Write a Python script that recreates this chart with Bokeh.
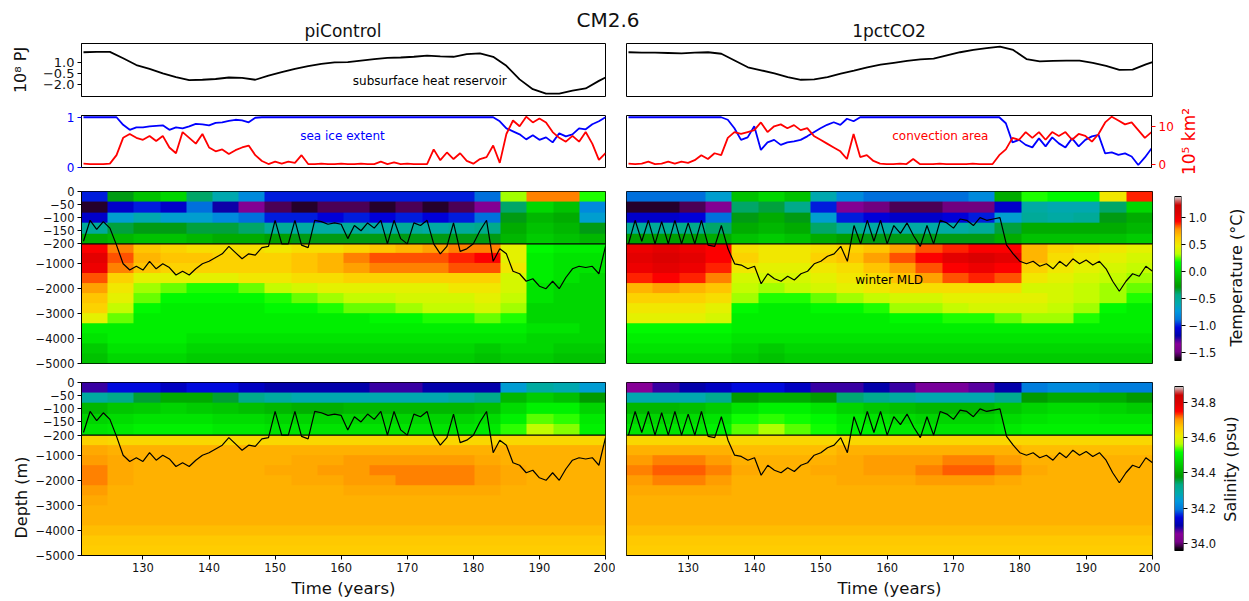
import numpy as np
from bokeh.plotting import figure
from bokeh.models import (Range1d, LinearAxis, FixedTicker, Span, Label, Div, Title,
                          LinearColorMapper, CustomJSTickFormatter)
from bokeh.layouts import row, column
from bokeh.embed import file_html
from bokeh.resources import INLINE

FONT = "DejaVu Sans"

# ------------------------------------------------------------------ data
years = list(range(121, 201))
heat_years = [121, 123, 125, 127, 129, 131, 133, 135, 137, 139, 141, 143, 145, 147, 149,
              151, 153, 155, 157, 159, 161, 163, 165, 167, 169, 171, 173, 175, 177, 179,
              181, 183, 185, 187, 189, 191, 193, 195, 197, 199, 200]

heat_pi = [2.3, 2.35, 2.35, 1.5, 0.6, 0.1, -0.5, -1.0, -1.4, -1.35, -1.25, -1.05, -1.1, -1.35,
           -0.8, -0.35, 0.1, 0.45, 0.75, 0.95, 1.0, 1.2, 1.4, 1.55, 1.6, 1.7, 1.85, 1.75, 1.7,
           2.05, 2.15, 1.7, 0.5, -1.3, -2.6, -3.2, -3.2, -2.8, -2.5, -1.5, -1.05]
heat_1pct = [2.3, 2.25, 2.25, 2.2, 2.15, 2.25, 2.3, 2.1, 1.2, 0.3, -0.1, -0.5, -1.0, -1.35,
             -1.3, -1.0, -0.55, -0.15, 0.3, 0.65, 0.9, 1.15, 1.35, 1.45, 1.9, 2.3, 2.6, 2.85,
             3.05, 2.6, 1.4, 1.1, 1.15, 1.2, 1.2, 0.9, 0.5, -0.05, 0.0, 0.7, 1.0]

ice_pi = [1.0, 1.0, 1.0, 1.0, 1.0, 1.0, 0.85, 0.75, 0.8, 0.8, 0.82, 0.83, 0.84, 0.75, 0.8, 0.78,
          0.82, 0.87, 0.86, 0.84, 0.89, 0.9, 0.93, 0.95, 0.94, 0.9, 0.99,
          1.0, 1.0, 1.0, 1.0, 1.0, 1.0, 1.0, 1.0, 1.0, 1.0, 1.0, 1.0, 1.0, 1.0, 1.0, 1.0, 1.0, 1.0,
          1.0, 1.0, 1.0, 1.0, 1.0, 1.0, 1.0, 1.0, 1.0, 1.0, 1.0, 1.0, 1.0, 1.0, 1.0, 1.0, 1.0, 1.0,
          0.92, 0.78, 0.72, 0.66, 0.56, 0.64, 0.55, 0.6, 0.5, 0.68, 0.62, 0.66, 0.78, 0.76, 0.86,
          0.92, 1.0]
conv_pi = [0.3, 0.2, 0.2, 0.2, 0.3, 2.5, 7.0, 8.0, 7.0, 6.5, 7.5, 6.2, 7.5, 4.5, 3.0, 8.5, 7.0,
           5.5, 8.0, 4.5, 3.5, 4.0, 2.8, 3.8, 4.5, 5.0, 2.5, 1.0, 0.2, 0.8, 0.3, 0.8, 0.5, 2.5,
           0.2, 0.2, 0.3, 0.2, 0.2, 0.3, 0.2, 0.2, 0.3, 0.2, 0.2, 0.8, 0.2, 0.6, 0.2, 0.3, 0.2,
           0.2, 0.2, 4.0, 1.2, 3.2, 1.5, 3.0, 1.0, 0.3, 1.5, 2.0, 5.0, 0.5, 8.0, 11.5, 10.0, 12.5,
           11.0, 12.0, 11.0, 8.5, 7.0, 6.0, 7.5, 6.0, 8.5, 5.5, 1.3, 3.0]
ice_1pct = [1.0, 1.0, 1.0, 1.0, 1.0, 1.0, 1.0, 1.0, 1.0, 1.0, 1.0, 1.0, 1.0, 1.0, 1.0,
            0.95, 0.78, 0.55, 0.6, 0.82, 0.35, 0.5, 0.55, 0.45, 0.5, 0.52, 0.55, 0.62, 0.7, 0.78,
            0.85, 0.9, 0.85, 0.97, 0.92,
            1.0, 1.0, 1.0, 1.0, 1.0, 1.0, 1.0, 1.0, 1.0, 1.0, 1.0, 1.0, 1.0, 1.0, 1.0, 1.0, 1.0,
            1.0, 1.0, 1.0, 1.0, 1.0,
            0.88, 0.5, 0.55, 0.45, 0.4, 0.58, 0.42, 0.6, 0.48, 0.4, 0.58, 0.42, 0.55, 0.62, 0.65,
            0.28, 0.3, 0.25, 0.28, 0.22, 0.05, 0.2, 0.38]
conv_1pct = [0.3, 0.2, 0.3, 0.8, 0.2, 0.3, 0.8, 0.3, 0.8, 0.5, 1.2, 2.5, 1.5, 3.0, 2.5, 7.0, 8.5,
             8.0, 8.5, 9.0, 11.0, 8.5, 10.0, 10.5, 9.5, 10.3, 9.0, 9.5, 7.5, 6.5, 5.5, 4.5, 3.5,
             1.5, 8.0, 2.0, 2.5, 1.0, 0.3, 0.2, 0.2, 0.3, 0.2, 1.5, 0.2, 0.2, 0.2, 0.3, 0.2, 0.2,
             0.2, 0.2, 0.3, 0.2, 0.2, 0.2, 2.5, 4.0, 7.0, 6.5, 8.5, 7.0, 8.5, 6.5, 8.5, 7.5, 8.5,
             6.5, 8.0, 7.5, 6.0, 8.0, 11.0, 12.5, 11.5, 10.5, 11.0, 9.0, 7.0, 8.5]

# winter mixed layer depth (m)
mld_pi = [-190, -110, -145, -115, -140, -250, -1000, -1250, -1100, -1250, -900, -1200, -1000,
          -1150, -1450, -1300, -1450, -1200, -1000, -900, -750, -600, -300, -550, -800, -600,
          -650, -350, -300, -110, -200, -200, -110, -250, -350, -110, -115, -125, -120, -125,
          -180, -130, -150, -120, -140, -110, -200, -110, -180, -200, -120, -130, -110, -200,
          -600, -300, -120, -500, -400, -200, -150, -110, -900, -400, -600, -1300, -1400, -1700,
          -1600, -1900, -2000, -1700, -2000, -1550, -1200, -1100, -1150, -1100, -1400, -300]
mld_1pct = [-200, -110, -190, -110, -200, -115, -200, -110, -200, -120, -200, -110, -250, -300,
            -130, -400, -1000, -1050, -1200, -1100, -1800, -1400, -1600, -1700, -1500, -1650,
            -1400, -1300, -1000, -900, -700, -600, -300, -900, -130, -200, -110, -190, -110, -200,
            -130, -160, -120, -170, -300, -130, -200, -110, -120, -140, -105, -110, -130, -100,
            -110, -105, -100, -250, -600, -900, -1000, -900, -1100, -1000, -1200, -900, -1100,
            -800, -1000, -850, -1050, -900, -1200, -1700, -2100, -1700, -1400, -1500, -1100, -1300]

# potential temperature (deg C); upper 200 m (rows 0-40,...,160-200 m), 20 time bins 121-200
temp_pi_upper = [
    [-1.0, -0.3, -0.1, 0.0, -0.4, -0.6, -0.8, -1.0, -1.0, -1.0, -1.0, -1.0, -1.0, -1.0, -1.0, -0.9, 0.3, 0.8, 0.8, 0.2],
    [-1.6, -1.1, -1.0, -1.1, -0.9, -1.2, -1.4, -1.55, -1.6, -1.55, -1.55, -1.6, -1.55, -1.6, -1.55, -1.4, -0.4, 0.0, -0.1, -0.8],
    [-1.1, -0.7, -0.6, -0.7, -0.7, -0.8, -0.9, -1.0, -1.0, -1.05, -1.0, -1.05, -1.0, -1.05, -1.0, -0.9, -0.3, -0.15, -0.2, -0.7],
    [-0.5, -0.35, -0.3, -0.3, -0.35, -0.35, -0.4, -0.5, -0.55, -0.55, -0.5, -0.55, -0.5, -0.55, -0.5, -0.45, -0.2, -0.1, -0.15, -0.3],
    [-0.2, -0.15, -0.1, -0.1, -0.15, -0.2, -0.2, -0.25, -0.3, -0.3, -0.3, -0.3, -0.3, -0.3, -0.3, -0.3, -0.15, -0.05, -0.1, -0.15],
]
# 200-5000 m (rows of 400 m)
temp_pi_lower = [
    [0.95, 0.8, 0.65, 0.6, 0.55, 0.55, 0.55, 0.5, 0.55, 0.55, 0.6, 0.65, 0.7, 0.75, 0.8, 0.8, 0.45, 0.15, 0.1, 0.1],
    [1.05, 0.85, 0.7, 0.65, 0.65, 0.6, 0.6, 0.6, 0.65, 0.7, 0.8, 0.85, 0.85, 0.85, 0.9, 0.95, 0.45, 0.1, 0.05, 0.05],
    [1.0, 0.8, 0.65, 0.6, 0.6, 0.6, 0.6, 0.6, 0.65, 0.7, 0.75, 0.8, 0.8, 0.8, 0.85, 0.85, 0.5, 0.1, 0.05, 0.05],
    [0.85, 0.6, 0.45, 0.45, 0.45, 0.45, 0.5, 0.5, 0.55, 0.55, 0.6, 0.6, 0.6, 0.6, 0.6, 0.6, 0.4, 0.1, 0.05, 0.0],
    [0.75, 0.5, 0.3, 0.25, 0.2, 0.2, 0.25, 0.35, 0.4, 0.45, 0.45, 0.45, 0.45, 0.45, 0.5, 0.5, 0.4, 0.05, 0.0, 0.0],
    [0.65, 0.45, 0.25, 0.15, 0.15, 0.15, 0.15, 0.2, 0.25, 0.3, 0.35, 0.35, 0.4, 0.4, 0.4, 0.45, 0.35, 0.05, 0.0, 0.0],
    [0.6, 0.35, 0.15, 0.1, 0.1, 0.1, 0.1, 0.15, 0.15, 0.2, 0.25, 0.25, 0.3, 0.35, 0.35, 0.4, 0.3, 0.0, 0.0, 0.0],
    [0.45, 0.25, 0.1, 0.1, 0.1, 0.1, 0.1, 0.1, 0.1, 0.1, 0.1, 0.15, 0.15, 0.2, 0.2, 0.25, 0.2, 0.0, 0.0, 0.0],
    [0.1, 0.1, 0.1, 0.1, 0.1, 0.1, 0.1, 0.1, 0.1, 0.1, 0.1, 0.1, 0.1, 0.1, 0.1, 0.1, 0.1, 0.05, 0.05, 0.0],
    [0.05, 0.1, 0.1, 0.1, 0.05, 0.05, 0.05, 0.05, 0.05, 0.05, 0.05, 0.05, 0.05, 0.05, 0.05, 0.05, 0.05, 0.0, 0.0, 0.0],
    [-0.05, 0.05, 0.05, 0.05, 0.0, 0.0, 0.0, 0.0, 0.0, 0.0, 0.0, 0.0, 0.0, 0.0, 0.0, -0.05, 0.0, 0.0, -0.05, -0.05],
    [-0.1, 0.0, 0.0, 0.0, -0.05, -0.05, -0.05, -0.05, -0.05, -0.05, -0.05, -0.05, -0.05, -0.05, -0.05, -0.1, -0.05, -0.05, -0.1, -0.1],
]
temp_1pct_upper = [
    [-0.9, -0.9, -0.9, -0.7, -0.1, 0.0, -0.1, -0.6, -0.8, -0.9, -0.9, -0.9, -0.9, -0.8, -0.2, 0.2, 0.15, 0.15, 0.5, 0.9],
    [-1.6, -1.6, -1.55, -1.4, -0.4, -0.35, -0.45, -1.0, -1.4, -1.5, -1.55, -1.55, -1.5, -1.5, -1.1, -0.55, -0.6, -0.6, -0.4, 0.0],
    [-1.1, -1.1, -1.05, -0.9, -0.3, -0.2, -0.3, -0.7, -1.0, -1.05, -1.1, -1.1, -1.05, -1.0, -0.7, -0.5, -0.55, -0.5, -0.3, -0.2],
    [-0.5, -0.5, -0.45, -0.4, -0.2, -0.15, -0.2, -0.4, -0.5, -0.55, -0.55, -0.55, -0.55, -0.5, -0.35, -0.2, -0.2, -0.2, -0.2, -0.15],
    [-0.25, -0.25, -0.25, -0.2, -0.1, -0.05, -0.1, -0.2, -0.25, -0.3, -0.3, -0.3, -0.3, -0.3, -0.2, -0.1, -0.1, -0.1, -0.1, -0.05],
]
temp_1pct_lower = [
    [1.0, 1.05, 1.0, 0.95, 0.55, 0.5, 0.5, 0.55, 0.6, 0.65, 0.75, 0.85, 0.9, 0.95, 0.95, 0.7, 0.6, 0.55, 0.5, 0.45],
    [1.05, 1.1, 1.05, 0.95, 0.6, 0.5, 0.5, 0.6, 0.65, 0.75, 0.85, 0.95, 1.05, 1.1, 1.05, 0.7, 0.55, 0.5, 0.45, 0.4],
    [1.0, 1.05, 1.0, 0.9, 0.5, 0.45, 0.45, 0.5, 0.55, 0.65, 0.75, 0.85, 0.95, 1.0, 0.95, 0.6, 0.5, 0.45, 0.4, 0.35],
    [0.9, 0.95, 0.9, 0.8, 0.4, 0.4, 0.4, 0.45, 0.5, 0.55, 0.65, 0.75, 0.85, 0.9, 0.85, 0.5, 0.45, 0.4, 0.35, 0.3],
    [0.7, 0.75, 0.7, 0.65, 0.35, 0.3, 0.35, 0.4, 0.45, 0.5, 0.55, 0.55, 0.55, 0.55, 0.55, 0.4, 0.4, 0.35, 0.3, 0.25],
    [0.6, 0.6, 0.6, 0.55, 0.3, 0.2, 0.2, 0.25, 0.3, 0.35, 0.4, 0.4, 0.45, 0.45, 0.45, 0.45, 0.4, 0.35, 0.3, 0.2],
    [0.5, 0.5, 0.5, 0.45, 0.15, 0.1, 0.1, 0.15, 0.15, 0.2, 0.3, 0.3, 0.35, 0.4, 0.4, 0.4, 0.35, 0.3, 0.15, 0.1],
    [0.45, 0.45, 0.45, 0.4, 0.1, 0.1, 0.1, 0.1, 0.1, 0.1, 0.15, 0.15, 0.2, 0.2, 0.25, 0.3, 0.3, 0.2, 0.1, 0.1],
    [0.15, 0.15, 0.15, 0.15, 0.1, 0.1, 0.1, 0.1, 0.1, 0.1, 0.1, 0.1, 0.1, 0.1, 0.1, 0.1, 0.1, 0.1, 0.1, 0.1],
    [0.1, 0.1, 0.1, 0.1, 0.05, 0.05, 0.05, 0.05, 0.05, 0.05, 0.05, 0.05, 0.05, 0.05, 0.05, 0.05, 0.05, 0.05, 0.05, 0.05],
    [0.05, 0.05, 0.05, 0.05, 0.0, -0.05, 0.0, 0.0, 0.0, 0.0, 0.0, 0.0, 0.0, 0.0, 0.0, 0.0, 0.0, 0.0, 0.0, 0.0],
    [0.0, 0.0, 0.0, 0.0, -0.05, -0.1, -0.05, -0.05, -0.05, -0.05, -0.05, -0.05, -0.05, -0.05, -0.05, -0.05, -0.05, -0.05, -0.05, -0.05],
]
# salinity (psu)
salt_pi_upper = [
    [34.08, 34.15, 34.15, 34.12, 34.15, 34.15, 34.12, 34.1, 34.1, 34.1, 34.1, 34.08, 34.08, 34.1, 34.1, 34.1, 34.25, 34.3, 34.28, 34.25],
    [34.3, 34.33, 34.36, 34.4, 34.4, 34.36, 34.33, 34.3, 34.28, 34.28, 34.28, 34.28, 34.28, 34.28, 34.3, 34.33, 34.42, 34.45, 34.43, 34.38],
    [34.42, 34.44, 34.45, 34.46, 34.45, 34.44, 34.43, 34.42, 34.41, 34.41, 34.42, 34.42, 34.42, 34.42, 34.42, 34.43, 34.47, 34.5, 34.5, 34.46],
    [34.46, 34.47, 34.48, 34.48, 34.48, 34.47, 34.47, 34.46, 34.46, 34.46, 34.46, 34.46, 34.46, 34.46, 34.46, 34.47, 34.5, 34.54, 34.53, 34.49],
    [34.48, 34.49, 34.5, 34.5, 34.5, 34.49, 34.49, 34.48, 34.48, 34.48, 34.48, 34.48, 34.48, 34.48, 34.48, 34.49, 34.53, 34.57, 34.55, 34.5],
]
salt_pi_lower = [
    [34.65, 34.64, 34.64, 34.64, 34.64, 34.64, 34.64, 34.64, 34.64, 34.64, 34.64, 34.64, 34.64, 34.64, 34.64, 34.64, 34.64, 34.64, 34.64, 34.64],
    [34.69, 34.68, 34.68, 34.68, 34.68, 34.68, 34.68, 34.68, 34.68, 34.68, 34.68, 34.68, 34.68, 34.68, 34.68, 34.68, 34.68, 34.68, 34.68, 34.68],
    [34.7, 34.69, 34.68, 34.68, 34.68, 34.68, 34.68, 34.68, 34.69, 34.69, 34.7, 34.7, 34.7, 34.7, 34.7, 34.69, 34.68, 34.68, 34.68, 34.68],
    [34.71, 34.69, 34.68, 34.68, 34.68, 34.68, 34.68, 34.69, 34.69, 34.7, 34.7, 34.71, 34.71, 34.71, 34.71, 34.7, 34.69, 34.68, 34.68, 34.68],
    [34.71, 34.69, 34.68, 34.68, 34.68, 34.68, 34.68, 34.68, 34.69, 34.69, 34.7, 34.7, 34.71, 34.71, 34.71, 34.7, 34.69, 34.68, 34.68, 34.68],
    [34.7, 34.68, 34.68, 34.68, 34.68, 34.68, 34.68, 34.68, 34.68, 34.68, 34.69, 34.69, 34.69, 34.69, 34.69, 34.69, 34.68, 34.68, 34.68, 34.68],
    [34.69, 34.68, 34.68, 34.68, 34.68, 34.68, 34.68, 34.68, 34.68, 34.68, 34.68, 34.68, 34.68, 34.68, 34.68, 34.68, 34.68, 34.68, 34.68, 34.68],
    [34.68, 34.68, 34.68, 34.68, 34.68, 34.68, 34.68, 34.68, 34.68, 34.68, 34.68, 34.68, 34.68, 34.68, 34.68, 34.68, 34.68, 34.68, 34.68, 34.68],
    [34.68, 34.68, 34.68, 34.68, 34.68, 34.68, 34.68, 34.68, 34.68, 34.68, 34.68, 34.68, 34.68, 34.68, 34.68, 34.68, 34.68, 34.68, 34.68, 34.68],
    [34.67, 34.67, 34.67, 34.67, 34.67, 34.67, 34.67, 34.67, 34.67, 34.67, 34.67, 34.67, 34.67, 34.67, 34.67, 34.67, 34.67, 34.67, 34.67, 34.67],
    [34.66, 34.66, 34.66, 34.66, 34.66, 34.66, 34.66, 34.66, 34.66, 34.66, 34.66, 34.66, 34.66, 34.66, 34.66, 34.66, 34.66, 34.66, 34.66, 34.66],
    [34.655, 34.655, 34.655, 34.655, 34.655, 34.655, 34.655, 34.655, 34.655, 34.655, 34.655, 34.655, 34.655, 34.655, 34.655, 34.655, 34.655, 34.655, 34.655, 34.655],
]
salt_1pct_upper = [
    [34.05, 34.08, 34.1, 34.12, 34.15, 34.15, 34.12, 34.08, 34.08, 34.1, 34.08, 34.06, 34.06, 34.07, 34.1, 34.2, 34.22, 34.22, 34.2, 34.2],
    [34.28, 34.28, 34.28, 34.32, 34.38, 34.4, 34.4, 34.38, 34.34, 34.32, 34.3, 34.28, 34.28, 34.28, 34.32, 34.38, 34.4, 34.4, 34.4, 34.38],
    [34.42, 34.42, 34.43, 34.45, 34.48, 34.5, 34.5, 34.48, 34.46, 34.44, 34.43, 34.42, 34.42, 34.42, 34.44, 34.46, 34.47, 34.47, 34.46, 34.45],
    [34.46, 34.46, 34.47, 34.48, 34.52, 34.53, 34.52, 34.51, 34.49, 34.48, 34.47, 34.46, 34.46, 34.46, 34.47, 34.48, 34.49, 34.49, 34.48, 34.48],
    [34.48, 34.48, 34.49, 34.5, 34.54, 34.56, 34.54, 34.52, 34.5, 34.5, 34.49, 34.48, 34.48, 34.48, 34.49, 34.5, 34.5, 34.5, 34.5, 34.5],
]
salt_1pct_lower = [
    [34.64, 34.64, 34.64, 34.64, 34.64, 34.64, 34.64, 34.64, 34.64, 34.64, 34.64, 34.64, 34.64, 34.64, 34.64, 34.64, 34.64, 34.64, 34.64, 34.64],
    [34.68, 34.68, 34.68, 34.68, 34.67, 34.67, 34.67, 34.67, 34.68, 34.68, 34.68, 34.68, 34.68, 34.68, 34.68, 34.67, 34.67, 34.67, 34.67, 34.67],
    [34.7, 34.71, 34.71, 34.7, 34.68, 34.68, 34.68, 34.68, 34.69, 34.7, 34.7, 34.7, 34.71, 34.71, 34.7, 34.68, 34.68, 34.68, 34.68, 34.68],
    [34.71, 34.72, 34.72, 34.71, 34.69, 34.68, 34.68, 34.69, 34.69, 34.7, 34.7, 34.71, 34.72, 34.72, 34.71, 34.69, 34.68, 34.68, 34.68, 34.68],
    [34.7, 34.71, 34.71, 34.7, 34.68, 34.68, 34.68, 34.68, 34.69, 34.69, 34.69, 34.7, 34.7, 34.7, 34.69, 34.68, 34.68, 34.68, 34.68, 34.68],
    [34.69, 34.69, 34.69, 34.69, 34.68, 34.68, 34.68, 34.68, 34.68, 34.68, 34.68, 34.68, 34.68, 34.68, 34.68, 34.68, 34.68, 34.68, 34.68, 34.68],
    [34.68, 34.68, 34.68, 34.68, 34.68, 34.68, 34.68, 34.68, 34.68, 34.68, 34.68, 34.68, 34.68, 34.68, 34.68, 34.68, 34.68, 34.68, 34.68, 34.68],
    [34.68, 34.68, 34.68, 34.68, 34.68, 34.68, 34.68, 34.68, 34.68, 34.68, 34.68, 34.68, 34.68, 34.68, 34.68, 34.68, 34.68, 34.68, 34.68, 34.68],
    [34.68, 34.68, 34.68, 34.68, 34.68, 34.68, 34.68, 34.68, 34.68, 34.68, 34.68, 34.68, 34.68, 34.68, 34.68, 34.68, 34.68, 34.68, 34.68, 34.68],
    [34.67, 34.67, 34.67, 34.67, 34.67, 34.67, 34.67, 34.67, 34.67, 34.67, 34.67, 34.67, 34.67, 34.67, 34.67, 34.67, 34.67, 34.67, 34.67, 34.67],
    [34.66, 34.66, 34.66, 34.66, 34.66, 34.66, 34.66, 34.66, 34.66, 34.66, 34.66, 34.66, 34.66, 34.66, 34.66, 34.66, 34.66, 34.66, 34.66, 34.66],
    [34.655, 34.655, 34.655, 34.655, 34.655, 34.655, 34.655, 34.655, 34.655, 34.655, 34.655, 34.655, 34.655, 34.655, 34.655, 34.655, 34.655, 34.655, 34.655, 34.655],
]

depth_ticks_m = [0, -50, -100, -150, -200, -1000, -2000, -3000, -4000, -5000]
x_ticks = [130, 140, 150, 160, 170, 180, 190, 200]
T_LOW, T_HIGH = -1.65, 1.39
S_LOW, S_HIGH = 33.96, 34.89

# ------------------------------------------------------------------ helpers
X0, X1 = 120.7, 200.0


def depth_axis(d):
    """split depth axis: upper 200 m stretched, 200-5000 m compressed."""
    d = np.asarray(d, dtype=float)
    return np.where(d >= -200, d * 1.05, -210.0 + (d + 200.0) / 10.0)


def nipy_spectral(n=256):
    pos = [0.0, 0.05, 0.10, 0.15, 0.20, 0.25, 0.30, 0.35, 0.40, 0.45, 0.50,
           0.55, 0.60, 0.65, 0.70, 0.75, 0.80, 0.85, 0.90, 0.95, 1.0]
    R = [0, 0.4667, 0.5333, 0, 0, 0, 0, 0, 0, 0, 0, 0, 0, 0.7333, 0.9333, 1, 1, 1, 0.8667, 0.8, 0.8]
    G = [0, 0, 0, 0, 0, 0.4667, 0.6, 0.6667, 0.6667, 0.6, 0.7333, 0.8667, 1, 1, 0.9333, 0.8, 0.6, 0, 0, 0, 0.8]
    B = [0, 0.5333, 0.6, 0.6667, 0.8667, 0.8667, 0.8667, 0.6667, 0.5333, 0, 0, 0, 0, 0, 0, 0, 0, 0, 0, 0, 0.8]
    t = np.linspace(0, 1, n)
    r, g, b = (np.interp(t, pos, c) for c in (R, G, B))
    return ["#%02x%02x%02x" % (int(round(a * 255)), int(round(bb * 255)), int(round(c * 255)))
            for a, bb, c in zip(r, g, b)]


PAL = nipy_spectral()
tmap = LinearColorMapper(palette=PAL, low=T_LOW, high=T_HIGH)
smap = LinearColorMapper(palette=PAL, low=S_LOW, high=S_HIGH)

FMT1 = CustomJSTickFormatter(code="return (tick < -1e-9 ? '\\u2212' : '') + Math.abs(tick).toFixed(1);")
FMT0 = CustomJSTickFormatter(code="return (tick < -1e-9 ? '\\u2212' : '') + Math.abs(tick).toFixed(0);")
FMTD = CustomJSTickFormatter(code="""
const d = tick >= -210 ? tick / 1.05 : (tick + 210) * 10 - 200;
const r = Math.round(d);
return (r < 0 ? '\\u2212' : '') + Math.abs(r);
""")


def make_fig(width, height, left, right, top, bottom, y_range, x_axis=False, y_axis="left",
             x_range=None):
    p = figure(width=width, height=height,
               x_range=x_range if x_range is not None else Range1d(X0, X1),
               y_range=y_range, output_backend="svg", toolbar_location=None,
               min_border_left=left, min_border_right=right,
               min_border_top=top, min_border_bottom=bottom,
               x_axis_location="below" if x_axis else None,
               y_axis_location=y_axis)
    p.grid.visible = False
    p.outline_line_color = "black"
    p.outline_line_width = 1
    p.outline_line_alpha = 1
    p.background_fill_color = "white"
    p.border_fill_color = "white"
    return p


def style_axis(ax, size="11.5px", color="#111111", tick_color="black"):
    ax.major_label_text_font = FONT
    ax.major_label_text_font_size = size
    ax.major_label_text_color = color
    ax.axis_label_text_font = FONT
    ax.axis_label_text_font_style = "normal"
    ax.axis_label_text_font_size = "16px"
    ax.axis_label_text_color = "#111111"
    ax.minor_tick_line_color = None
    ax.major_tick_out = 4
    ax.major_tick_in = 0
    ax.major_tick_line_color = tick_color
    ax.axis_line_color = "black"
    ax.major_label_standoff = 3


def add_text(p, x, y, text, color="black", size="12px"):
    p.add_layout(Label(x=x, y=y, text=text, text_color=color, text_font=FONT,
                       text_font_size=size, text_align="center", text_baseline="middle"))


def side_label(width, height, top, bottom, text, color="#111111", size="16px", standoff=2):
    """narrow figure whose only content is a vertical (bottom-to-top) axis title"""
    p = figure(width=width, height=height, x_range=Range1d(0, 1), y_range=Range1d(0, 1),
               output_backend="svg", toolbar_location=None,
               min_border_left=width - 1, min_border_right=0,
               min_border_top=top, min_border_bottom=bottom,
               x_axis_location=None, y_axis_location="left")
    p.grid.visible = False
    p.outline_line_color = None
    p.background_fill_color = "white"
    p.border_fill_color = "white"
    ax = p.yaxis[0]
    ax.ticker = FixedTicker(ticks=[])
    ax.axis_line_color = None
    ax.major_tick_line_color = None
    ax.minor_tick_line_color = None
    ax.major_tick_out = 0
    ax.major_label_standoff = 0
    ax.axis_label = text
    ax.axis_label_standoff = standoff
    ax.axis_label_text_font = FONT
    ax.axis_label_text_font_style = "normal"
    ax.axis_label_text_font_size = size
    ax.axis_label_text_color = color
    return p


# ------------------------------------------------------------------ title block
title_html = (
    '<div style="position:relative;width:1244px;height:42px;font-family:\'DejaVu Sans\';color:#111;">'
    '<span style="position:absolute;left:608px;top:10px;transform:translateX(-50%);font-size:20px;'
    'line-height:20px;white-space:nowrap;">CM2.6</span>'
    '<span style="position:absolute;left:343px;top:23px;transform:translateX(-50%);font-size:17px;'
    'line-height:17px;white-space:nowrap;">piControl</span>'
    '<span style="position:absolute;left:889px;top:23px;transform:translateX(-50%);font-size:17px;'
    'line-height:17px;white-space:nowrap;">1pctCO2</span></div>')
title_div = Div(text=title_html, width=1244, height=42, margin=(0, 0, 0, 0))

# ------------------------------------------------------------------ row 1: heat reservoir
HEAT_RANGE = (-3.57, 3.46)
hL = make_fig(615, 63, 81, 10, 1, 9, Range1d(*HEAT_RANGE))
style_axis(hL.yaxis[0], size="13px")
hL.yaxis.ticker = FixedTicker(ticks=[-2.0, -0.5, 1.0])
hL.yaxis.formatter = FMT1
hL.yaxis.axis_label = "10⁸ PJ"
hL.yaxis.axis_label_standoff = 10
hL.line(heat_years, heat_pi, line_color="black", line_width=1.8)
add_text(hL, 173.4, -1.46, "subsurface heat reservoir")

hR = make_fig(545, 63, 11, 8, 1, 9, Range1d(*HEAT_RANGE), y_axis=None)
hR.line(heat_years, heat_1pct, line_color="black", line_width=1.8)

# ------------------------------------------------------------------ row 2: sea ice / convection
ICE_RANGE = (0.0, 1.035)
CONV_RANGE = (-0.7, 12.8)
iL = make_fig(615, 74, 81, 10, 10, 12, Range1d(*ICE_RANGE))
iL.extra_y_ranges = {"conv": Range1d(*CONV_RANGE)}
style_axis(iL.yaxis[0], size="12px", color="blue", tick_color="blue")
iL.yaxis.ticker = FixedTicker(ticks=[0, 1])
iL.yaxis.formatter = FMT0
iL.line(years, ice_pi, line_color="blue", line_width=1.8)
iL.line(years, conv_pi, line_color="red", line_width=1.8, y_range_name="conv")
add_text(iL, 160.2, 0.63, "sea ice extent", color="blue")

iR = make_fig(561, 74, 11, 24, 10, 12, Range1d(*ICE_RANGE), y_axis=None)
iR.extra_y_ranges = {"conv": Range1d(*CONV_RANGE)}
rax = LinearAxis(y_range_name="conv", ticker=FixedTicker(ticks=[0, 10]), formatter=FMT0)
style_axis(rax, size="12px", color="red", tick_color="red")
iR.add_layout(rax, "right")
iR.line(years, ice_1pct, line_color="blue", line_width=1.8)
iR.line(years, conv_1pct, line_color="red", line_width=1.8, y_range_name="conv")
add_text(iR, 168.1, 0.63, "convection area", color="red")
iLab = side_label(24, 74, 10, 12, "10⁵ km²", color="red", size="17px", standoff=2)

# ------------------------------------------------------------------ rows 3-4: sections
D_RANGE = (float(depth_axis(-5000)), 0.0)
D_TOP = float(depth_axis(-200))


def section(p, upper, lower, cmap, mld, left_axis):
    up = np.flipud(np.array(upper, dtype=float))
    lo = np.flipud(np.array(lower, dtype=float))
    p.image(image=[up], x=X0, y=D_TOP, dw=X1 - X0, dh=-D_TOP, color_mapper=cmap)
    p.image(image=[lo], x=X0, y=D_RANGE[0], dw=X1 - X0, dh=D_TOP - D_RANGE[0], color_mapper=cmap)
    p.add_layout(Span(location=D_TOP, dimension="width", line_color="black", line_width=1.4))
    p.line(years, depth_axis(mld), line_color="black", line_width=1.2)
    if left_axis:
        style_axis(p.yaxis[0])
        p.yaxis.ticker = FixedTicker(ticks=[float(v) for v in depth_axis(depth_ticks_m)])
        p.yaxis.formatter = FMTD


T_H, T_TOP, T_BOT = 192, 12, 8      # temperature row: frame 172 px
S_H, S_TOP, S_BOT = 230, 11, 46     # salinity row: frame 173 px

tL = make_fig(615, T_H, 81, 10, T_TOP, T_BOT, Range1d(*D_RANGE))
section(tL, temp_pi_upper, temp_pi_lower, tmap, mld_pi, True)
tR = make_fig(545, T_H, 11, 8, T_TOP, T_BOT, Range1d(*D_RANGE), y_axis=None)
section(tR, temp_1pct_upper, temp_1pct_lower, tmap, mld_1pct, False)
add_text(tR, 160.3, float(depth_axis(-1670)), "winter MLD")

sL = make_fig(615, S_H, 81, 10, S_TOP, S_BOT, Range1d(*D_RANGE), x_axis=True)
section(sL, salt_pi_upper, salt_pi_lower, smap, mld_pi, True)
sR = make_fig(545, S_H, 11, 8, S_TOP, S_BOT, Range1d(*D_RANGE), x_axis=True, y_axis=None)
section(sR, salt_1pct_upper, salt_1pct_lower, smap, mld_1pct, False)
for p in (sL, sR):
    style_axis(p.xaxis[0])
    p.xaxis.ticker = FixedTicker(ticks=x_ticks)
    p.xaxis.axis_label = "Time (years)"
    p.xaxis.axis_label_text_font_size = "16.5px"
    p.xaxis.major_label_standoff = 3
    p.xaxis.axis_label_standoff = 4
sL.add_layout(Title(text="Depth (m)", align="left", offset=17, standoff=4,
                    text_font=FONT, text_font_size="16px", text_font_style="normal",
                    text_color="#111111"), "left")


# ------------------------------------------------------------------ colour bars
def colorbar(height, top, bottom, pad_top, pad_bot, low, high, cmap, ticks):
    frame_px = height - top - bottom
    bar_px = frame_px - pad_top - pad_bot
    per_px = (high - low) / bar_px
    yr = Range1d(low - pad_bot * per_px, high + pad_top * per_px)
    p = make_fig(59, height, 14, 36, top, bottom, yr, y_axis="right", x_range=Range1d(0, 1))
    p.outline_line_color = None
    p.image(image=[np.linspace(low, high, 256).reshape(-1, 1)], x=0, y=low, dw=1,
            dh=high - low, color_mapper=cmap)
    p.quad(left=[0], right=[1], bottom=[low], top=[high], fill_color=None,
           line_color="black", line_width=1)
    style_axis(p.yaxis[0], size="11.5px")
    p.yaxis.axis_line_color = None
    p.yaxis.ticker = FixedTicker(ticks=ticks)
    p.yaxis.formatter = FMT1
    return p


tcb = colorbar(T_H, T_TOP, T_BOT, 5, 3, T_LOW, T_HIGH, tmap, [-1.5, -1.0, -0.5, 0.0, 0.5, 1.0])
scb = colorbar(S_H, S_TOP, S_BOT, 4, 5, S_LOW, S_HIGH, smap, [34.0, 34.2, 34.4, 34.6, 34.8])
tLab = side_label(29, T_H, T_TOP, T_BOT, "Temperature (°C)", standoff=2)
sLab = side_label(22, S_H, S_TOP, S_BOT, "Salinity (psu)", standoff=2)

layout = column(
    title_div,
    row(hL, hR, spacing=0),
    row(iL, iR, iLab, spacing=0),
    row(tL, tR, tcb, tLab, spacing=0),
    row(sL, sR, scb, sLab, spacing=0),
    spacing=0,
)

open("out.html", "w").write(file_html(layout, INLINE, title="CM2.6"))
